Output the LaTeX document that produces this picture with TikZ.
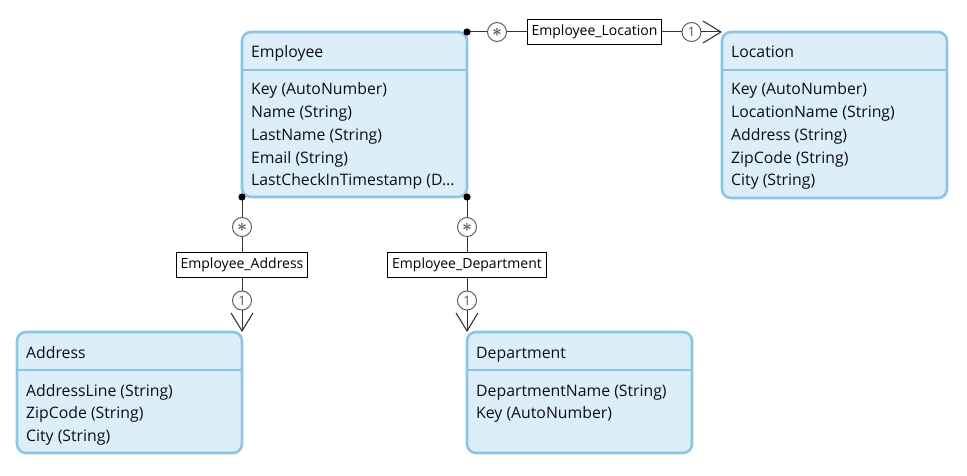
\documentclass[tikz,border=0pt]{standalone}
\usepackage{fontspec}
\setmainfont{Open Sans}
\usetikzlibrary{arrows.meta}
\definecolor{efill}{RGB}{219,238,250}
\definecolor{estroke}{RGB}{142,196,228}
\definecolor{mgray}{RGB}{85,85,85}
\definecolor{tdark}{RGB}{15,15,15}
\newcommand{\mystarsym}{{\fontsize{19}{19}\selectfont\boldmath$\ast$}}
\begin{document}
\begin{tikzpicture}[x=1pt,y=-1pt,
  entity/.style={draw=estroke, fill=efill, line width=2.6pt, rounded corners=9pt,
    rectangle, anchor=north west, inner sep=0pt, outer sep=0pt, minimum width=225pt},
  sepline/.style={draw=estroke, line width=2.6pt},
  etext/.style={anchor=base west, inner sep=0pt, text=tdark, font=\fontsize{15.8}{18}\selectfont},
  mult/.style={circle, draw=mgray, fill=white, line width=0.9pt, minimum size=19pt,
    inner sep=0pt, text=mgray, font=\fontsize{13}{13}\selectfont},
  rel/.style={draw=black, fill=white, line width=0.9pt, minimum height=25pt, inner sep=4.5pt,
    text=black, font=\fontsize{14}{16}\selectfont},
  conn/.style={draw=black!80, line width=1pt},
  barb/.style={-{Straight Barb[length=18pt,width=22pt,line width=1.1pt]}},
  dot/.style={fill=black}
]
\useasboundingbox (0,0) rectangle (967,476);

% ---------- entities ----------
\node[entity, minimum height=165pt] (emp) at (242,32) {};
\node[entity, minimum height=166pt] (loc) at (722,32) {};
\node[entity, minimum height=121pt] (addr) at (17,332) {};
\node[entity, minimum height=121pt] (dept) at (467,332) {};

\draw[sepline] (emp.west |- 0,70) -- (emp.east |- 0,70);
\draw[sepline] (loc.west |- 0,70) -- (loc.east |- 0,70);
\draw[sepline] (addr.west |- 0,370) -- (addr.east |- 0,370);
\draw[sepline] (dept.west |- 0,370) -- (dept.east |- 0,370);

% Employee
\node[etext] (empT) at (251,58) {Employee};
\node[etext] (empA1) at (251,95) {Key (AutoNumber)};
\node[etext] (empA2) at (251,117.7) {Name (String)};
\node[etext] (empA3) at (251,140.4) {LastName (String)};
\node[etext] (empA4) at (251,163.1) {Email (String)};
\node[etext] (empA5) at (251,185.8) {LastCheckInTimestamp (D...};

% Location
\node[etext] (locT) at (731,58) {Location};
\node[etext] (locA1) at (731,95) {Key (AutoNumber)};
\node[etext] (locA2) at (731,117.7) {LocationName (String)};
\node[etext] (locA3) at (731,140.4) {Address (String)};
\node[etext] (locA4) at (731,163.1) {ZipCode (String)};
\node[etext] (locA5) at (731,185.8) {City (String)};

% Address
\node[etext] (addrT) at (26,358) {Address};
\node[etext] (addrA1) at (26,396) {AddressLine (String)};
\node[etext] (addrA2) at (26,418.7) {ZipCode (String)};
\node[etext] (addrA3) at (26,441.4) {City (String)};

% Department
\node[etext] (deptT) at (476,358) {Department};
\node[etext] (deptA1) at (476,396) {DepartmentName (String)};
\node[etext] (deptA2) at (476,418.7) {Key (AutoNumber)};

% ---------- Employee_Location ----------
\node[mult] (elS) at (497,32) {\mystarsym};
\node[rel] (elL) at (594.5,32) {Employee\_Location};
\node[mult] (el1) at (691.5,32) {1};
\draw[conn] (emp.north east) -- (elS);
\draw[conn] (elS) -- (elL);
\draw[conn] (elL) -- (el1);
\draw[conn, barb] (el1) -- (loc.north west);
\fill[dot] (emp.north east) circle[radius=3.6pt];

% ---------- Employee_Address ----------
\node[mult] (eaS) at (242,227) {\mystarsym};
\node[rel] (eaL) at (242,265) {Employee\_Address};
\node[mult] (ea1) at (242,300.5) {1};
\draw[conn] (emp.south west) -- (eaS);
\draw[conn] (eaS) -- (eaL);
\draw[conn] (eaL) -- (ea1);
\draw[conn, barb] (ea1) -- (addr.north east);
\fill[dot] (emp.south west) circle[radius=3.6pt];

% ---------- Employee_Department ----------
\node[mult] (edS) at (467,227) {\mystarsym};
\node[rel] (edL) at (467,265) {Employee\_Department};
\node[mult] (ed1) at (467,300.5) {1};
\draw[conn] (emp.south east) -- (edS);
\draw[conn] (edS) -- (edL);
\draw[conn] (edL) -- (ed1);
\draw[conn, barb] (ed1) -- (dept.north west);
\fill[dot] (emp.south east) circle[radius=3.6pt];
\end{tikzpicture}
\end{document}
